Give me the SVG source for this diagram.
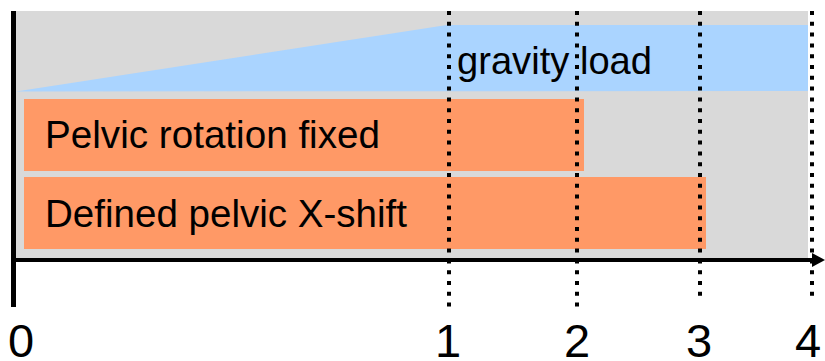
<svg xmlns="http://www.w3.org/2000/svg" width="825" height="361" viewBox="0 0 825 361">
<style>
.lbl{font-family:"Liberation Sans",Arial,sans-serif;font-size:39px;fill:#000}
.num{font-family:"Liberation Sans",Arial,sans-serif;font-size:47px;fill:#000;text-anchor:middle}
.bar{fill:#FF9966}
.dot{stroke:#000;stroke-width:4;stroke-dasharray:4 6.8;fill:none}
.axis{stroke:#000;fill:none}
</style>
<rect width="825" height="361" fill="#fff"/>
<g id="background"><rect x="16" y="11" width="792" height="247" fill="#D9D9D9"/></g>
<g id="gravity-load">
<polygon points="16,91.5 447,25 808,25 808,91" fill="#AAD4FF"/>
<text class="lbl" x="457" y="74" textLength="195" lengthAdjust="spacingAndGlyphs">gravity load</text>
</g>
<g id="pelvic-rotation">
<rect class="bar" x="24" y="99" width="560" height="72"/>
<text class="lbl" x="45" y="148" textLength="335" lengthAdjust="spacingAndGlyphs">Pelvic rotation fixed</text>
</g>
<g id="pelvic-shift">
<rect class="bar" x="24" y="177" width="682" height="72"/>
<text class="lbl" x="45" y="226.5" textLength="362" lengthAdjust="spacingAndGlyphs">Defined pelvic X-shift</text>
</g>
<g id="connectors">
<line class="dot" x1="449" y1="11" x2="449" y2="312"/>
<line class="dot" x1="577" y1="11" x2="577" y2="312"/>
<line class="dot" x1="700" y1="11" x2="700" y2="302"/>
<line class="dot" x1="812" y1="11" x2="812" y2="302"/>
<line class="axis" x1="13.5" y1="11" x2="13.5" y2="307" stroke-width="5"/>
<line class="axis" x1="11" y1="260" x2="814" y2="260" stroke-width="4"/>
<polygon points="812,253 825,260 812,267" fill="#000"/>
</g>
<g id="ticks">
<text class="num" x="21" y="357">0</text>
<text class="num" x="448" y="357">1</text>
<text class="num" x="577" y="357">2</text>
<text class="num" x="699" y="357">3</text>
<text class="num" x="808" y="357">4</text>
</g>
</svg>
